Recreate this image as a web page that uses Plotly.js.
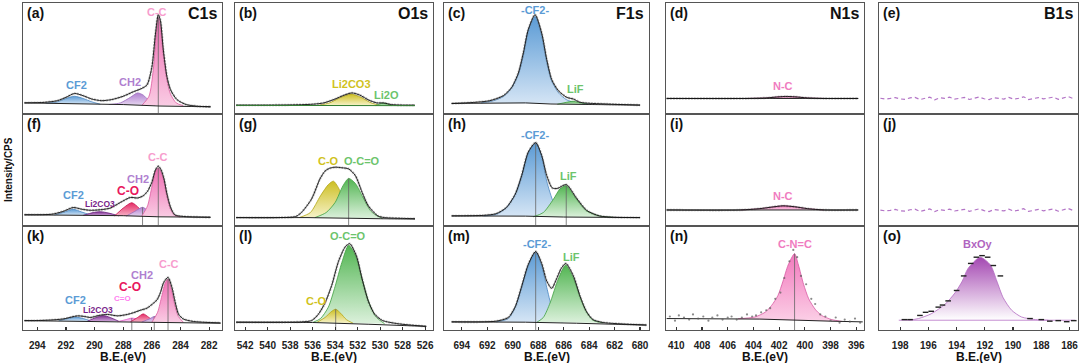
<!DOCTYPE html>
<html><head><meta charset="utf-8">
<script src="https://cdn.plot.ly/plotly-3.0.1.min.js"></script>
<style>html,body{margin:0;padding:0;background:#fff}#chart{width:1080px;height:363px}</style>
</head><body><div id="chart"></div>
<script>
// ---------- column x ranges / ticks ----------
const colRanges = [[295.0, 281.1], [542.9, 525.3], [695.4, 679.3], [410.8, 395.4], [199.5, 185.4]];
const elementNames = ['C1s', 'O1s', 'F1s', 'N1s', 'B1s'];
const panelLetters = ['(a)','(b)','(c)','(d)','(e)','(f)','(g)','(h)','(i)','(j)','(k)','(l)','(m)','(n)','(o)'];

// ---------- (a) C1s ----------
const a_bgX = [294.9, 288.0, 285.5, 281.9];
const a_bgY = [0.10, 0.085, 0.072, 0.065];
const a_envX = [294.9,293.5,292.6,292.0,291.4,290.8,290.2,289.5,288.8,288.0,287.3,286.8,286.35,286.0,285.75,285.55,285.4,285.2,284.95,284.7,284.25,283.6,282.8,281.9];
const a_envY = [0.10,0.105,0.12,0.15,0.185,0.165,0.135,0.12,0.13,0.16,0.20,0.225,0.26,0.42,0.72,0.895,0.84,0.58,0.34,0.22,0.13,0.085,0.07,0.065];
const a_cf2X = [293.4,292.6,292.0,291.4,290.8,290.2,289.6];
const a_cf2Y = [0.097,0.11,0.14,0.16,0.14,0.11,0.088];
const a_ch2X = [289.0,288.2,287.5,287.0,286.6,286.2,285.8];
const a_ch2Y = [0.085,0.10,0.15,0.19,0.17,0.12,0.078];
const a_ccX = [286.7,286.2,285.9,285.7,285.55,285.4,285.2,284.95,284.7,284.3,283.8];
const a_ccY = [0.078,0.16,0.40,0.72,0.87,0.80,0.55,0.31,0.18,0.10,0.075];

// ---------- (f) C1s ----------
const f_bgX = [294.9, 288.0, 285.5, 281.9];
const f_bgY = [0.10, 0.092, 0.082, 0.078];
const f_envX = [294.9,293.0,292.2,291.5,290.9,290.3,289.6,288.9,288.2,287.5,287.0,286.6,286.3,286.0,285.75,285.55,285.35,285.15,284.95,284.7,284.4,283.8,281.9];
const f_envY = [0.10,0.105,0.13,0.165,0.15,0.14,0.145,0.16,0.21,0.255,0.25,0.27,0.31,0.39,0.50,0.535,0.50,0.42,0.29,0.17,0.10,0.085,0.078];
const f_cf2X = [292.8,292.1,291.5,290.9,290.2];
const f_cf2Y = [0.098,0.125,0.15,0.125,0.095];
const f_li2co3X = [290.8,290.1,289.6,289.0,288.3];
const f_li2co3Y = [0.095,0.12,0.128,0.115,0.09];
const f_coX = [288.6,288.0,287.4,286.9,286.4];
const f_coY = [0.09,0.16,0.208,0.16,0.087];
const f_ch2X = [287.8,287.2,286.65,286.2,285.7];
const f_ch2Y = [0.088,0.13,0.167,0.13,0.084];
const f_ccX = [286.7,286.3,286.0,285.75,285.55,285.35,285.15,284.95,284.7,284.4,284.0];
const f_ccY = [0.09,0.18,0.35,0.49,0.52,0.48,0.40,0.27,0.15,0.095,0.08];

// ---------- (k) C1s ----------
const k_bgX = [294.9, 288.0, 285.0, 281.2];
const k_bgY = [0.09, 0.08, 0.072, 0.065];
const k_envX = [294.9,294.3,293.2,292.2,291.6,291.2,290.7,290.3,289.7,289.1,288.4,287.7,287.27,286.8,286.34,285.87,285.64,285.4,285.18,284.87,284.6,284.36,284.13,283.8,283.1,281.2];
const k_envY = [0.09,0.09,0.095,0.106,0.125,0.136,0.13,0.12,0.14,0.15,0.136,0.15,0.167,0.19,0.21,0.26,0.29,0.36,0.455,0.506,0.41,0.26,0.15,0.106,0.082,0.068];
const k_cf2X = [292.5,291.9,291.35,290.8,290.2];
const k_cf2Y = [0.088,0.11,0.125,0.11,0.085];
const k_li2co3X = [290.5,289.9,289.4,288.9,288.3];
const k_li2co3Y = [0.085,0.12,0.14,0.12,0.083];
const k_ceoX = [288.4,287.8,287.4,286.9,286.4];
const k_ceoY = [0.08,0.10,0.115,0.10,0.077];
const k_coX = [287.5,287.0,286.6,286.2,285.8];
const k_coY = [0.078,0.12,0.155,0.12,0.075];
const k_ch2X = [286.7,286.2,285.83,285.3,284.8];
const k_ch2Y = [0.077,0.105,0.13,0.11,0.073];
const k_ccX = [286.0,285.6,285.3,285.05,284.87,284.65,284.4,284.15,283.8];
const k_ccY = [0.075,0.17,0.33,0.46,0.49,0.40,0.24,0.13,0.075];

// ---------- (b) O1s ----------
const b_bgX = [542.8, 526.9];
const b_bgY = [0.078, 0.075];
const b_envX = [542.8,540,538,536,535,534,533.2,532.5,531.8,531,530.3,529.7,529,527.9,526.9];
const b_envY = [0.08,0.08,0.082,0.088,0.10,0.135,0.17,0.19,0.17,0.125,0.10,0.10,0.085,0.08,0.08];
const b_li2co3X = [535.5,534.5,533.5,532.6,531.7,530.8,530.0];
const b_li2co3Y = [0.078,0.10,0.15,0.18,0.15,0.10,0.077];
const b_li2oX = [530.4,529.9,529.5,529.0];
const b_li2oY = [0.076,0.095,0.095,0.076];

// ---------- (g) O1s ----------
const g_bgX = [542.8, 536.5, 530.0, 526.9];
const g_bgY = [0.075, 0.075, 0.065, 0.062];
const g_envX = [542.8,539,537.5,537.0,536.1,535.35,534.9,534.5,534.0,533.4,532.8,532.2,531.6,531.05,530.2,529.6,528,526.9];
const g_envY = [0.075,0.075,0.085,0.12,0.24,0.42,0.49,0.515,0.525,0.52,0.51,0.45,0.30,0.18,0.09,0.075,0.068,0.065];
const g_coX = [537.2,536.2,535.3,534.6,534.15,533.7,533.2,532.6,531.8];
const g_coY = [0.075,0.12,0.27,0.37,0.40,0.34,0.22,0.12,0.072];
const g_occoX = [535.8,534.8,534.0,533.3,532.8,532.2,531.5,530.8,529.8];
const g_occoY = [0.075,0.12,0.21,0.36,0.425,0.38,0.25,0.13,0.066];

// ---------- (l) O1s ----------
const l_bgX = [542.8, 536.0, 531.0, 525.9];
const l_bgY = [0.075, 0.072, 0.055, 0.035];
const l_envX = [542.8,539,537,536.1,535.5,534.9,534.3,533.7,533.1,532.7,532.1,531.6,531.05,530.5,529.8,528.4,525.9];
const l_envY = [0.075,0.075,0.078,0.09,0.15,0.26,0.43,0.66,0.80,0.83,0.71,0.49,0.277,0.154,0.092,0.06,0.035];
const l_coX = [535.6,534.9,534.3,533.95,533.5,533.0,532.4];
const l_coY = [0.075,0.12,0.18,0.20,0.16,0.10,0.065];
const l_occoX = [536.0,535.3,534.6,534.0,533.4,532.8,532.2,531.6,531.0,530.4,529.6];
const l_occoY = [0.072,0.11,0.22,0.42,0.65,0.815,0.72,0.49,0.27,0.13,0.06];

// ---------- (c) F1s ----------
const c_bgX = [694.8, 689.0, 687.0, 680.0];
const c_bgY = [0.095, 0.10, 0.09, 0.08];
const c_envX = [694.8,693.1,691.8,690.74,690.08,689.56,689.17,688.78,688.25,687.73,687.33,686.94,686.42,685.76,685.24,684.7,682.6,680.0];
const c_envY = [0.095,0.104,0.12,0.165,0.24,0.37,0.55,0.76,0.895,0.73,0.49,0.31,0.21,0.15,0.135,0.105,0.09,0.08];
const c_cf2X = [692.5,691.5,690.7,690.1,689.55,689.15,688.8,688.25,687.75,687.35,686.95,686.4,685.8,685.0,684.0];
const c_cf2Y = [0.10,0.12,0.16,0.235,0.36,0.54,0.75,0.88,0.72,0.48,0.30,0.19,0.13,0.10,0.088];
const c_lifX = [686.5,685.8,685.3,684.8,684.0];
const c_lifY = [0.088,0.105,0.115,0.105,0.085];

// ---------- (h) F1s ----------
const h_bgX = [694.8, 689.0, 686.0, 680.0];
const h_bgY = [0.09, 0.088, 0.08, 0.075];
const h_envX = [694.8,692.3,691.3,690.5,689.8,689.3,688.78,688.2,687.73,687.33,686.9,686.5,685.8,685.0,684.2,683.2,682.1,680.0];
const h_envY = [0.09,0.095,0.11,0.165,0.285,0.45,0.66,0.745,0.63,0.45,0.34,0.335,0.37,0.25,0.14,0.09,0.078,0.075];
const h_cf2X = [692.3,691.3,690.5,689.8,689.3,688.78,688.2,687.73,687.33,686.8,686.3,685.76];
const h_cf2Y = [0.09,0.104,0.164,0.284,0.448,0.657,0.74,0.627,0.40,0.21,0.12,0.085];
const h_lifX = [688.4,687.6,686.8,686.3,685.8,685.0,684.2,683.2,682.1];
const h_lifY = [0.082,0.12,0.24,0.33,0.36,0.24,0.134,0.09,0.077];

// ---------- (m) F1s ----------
const m_bgX = [694.8, 689.0, 685.0, 679.5];
const m_bgY = [0.078, 0.075, 0.065, 0.047];
const m_envX = [694.8,692.5,691.3,690.35,689.8,689.3,688.78,688.2,687.73,687.33,686.94,686.6,686.2,685.83,685.24,684.7,684.2,683.7,682.9,679.5];
const m_envY = [0.078,0.078,0.085,0.12,0.225,0.42,0.63,0.755,0.64,0.47,0.40,0.48,0.59,0.64,0.52,0.32,0.175,0.10,0.072,0.048];
const m_cf2X = [691.3,690.35,689.8,689.3,688.78,688.2,687.73,687.33,686.94,686.55,686.1];
const m_cf2Y = [0.078,0.11,0.22,0.41,0.625,0.75,0.62,0.41,0.22,0.11,0.075];
const m_lifX = [688.1,687.6,687.07,686.55,686.1,685.83,685.24,684.7,684.2,683.7,682.9];
const m_lifY = [0.075,0.12,0.26,0.45,0.58,0.625,0.50,0.31,0.17,0.094,0.068];

// ---------- (d) (i) (n) N1s ----------
const d_bgX = [410.75, 395.85];
const d_bgY = [0.14, 0.14];
const d_envX = [410.75,404.5,403,402,401.5,400.8,399.8,398.5,395.85];
const d_envY = [0.14,0.14,0.145,0.155,0.158,0.155,0.145,0.14,0.14];
const d_ncX = [404.5,403,402,401.5,400.8,399.8,398.5];
const d_ncY = [0.14,0.145,0.155,0.158,0.155,0.145,0.14];

const i_bgX = [410.75, 395.85];
const i_bgY = [0.143, 0.143];
const i_envX = [410.75,405,403.5,402.5,401.7,400.8,399.8,398.5,395.85];
const i_envY = [0.143,0.143,0.155,0.17,0.18,0.172,0.155,0.143,0.143];
const i_ncX = [405,403.5,402.5,401.7,400.8,399.8,398.5];
const i_ncY = [0.143,0.155,0.17,0.18,0.172,0.155,0.143];

const n_bgX = [410.75, 403.5, 398.0, 395.5];
const n_bgY = [0.11, 0.105, 0.085, 0.078];
const n_cncX = [405.2,403.9,403.1,402.6,402.1,401.7,401.3,400.8,400.5,400.1,399.7,399.2,398.7,397.9,397.1];
const n_cncY = [0.108,0.125,0.17,0.234,0.33,0.47,0.625,0.734,0.625,0.44,0.30,0.20,0.14,0.10,0.082];
const n_rawX = [410.5,410.1,409.8,409.4,409.0,408.7,408.3,407.9,407.5,407.2,406.8,406.4,406.0,405.7,405.3,404.9,404.5,404.1,403.8,403.4,403.0,402.7,402.3,401.9,401.6,401.2,400.9,400.6,400.3,399.9,399.5,399.2,398.8,398.4,398.0,397.6,397.3,396.9,396.5,396.1,395.7];
const n_rawY = [0.13,0.09,0.14,0.12,0.10,0.15,0.11,0.13,0.09,0.12,0.14,0.10,0.12,0.13,0.10,0.12,0.15,0.13,0.14,0.17,0.19,0.21,0.30,0.36,0.50,0.66,0.77,0.70,0.52,0.44,0.30,0.25,0.15,0.13,0.09,0.12,0.07,0.10,0.08,0.11,0.07];

// ---------- (e) (j) (o) B1s ----------
const e_rawX = [199.4,199.05,198.7,198.35,198.0,197.65,197.3,196.95,196.6,196.25,195.9,195.55,195.2,194.85,194.5,194.15,193.8,193.45,193.1,192.75,192.4,192.05,191.7,191.35,191.0,190.65,190.3,189.95,189.6,189.25,188.9,188.55,188.2,187.85,187.5,187.15,186.8,186.45,186.1,185.75];
const e_rawY = [0.142,0.135,0.140,0.148,0.136,0.132,0.145,0.150,0.130,0.138,0.152,0.128,0.146,0.140,0.151,0.134,0.139,0.149,0.131,0.144,0.153,0.137,0.129,0.147,0.141,0.135,0.150,0.133,0.142,0.155,0.130,0.138,0.148,0.136,0.143,0.152,0.132,0.146,0.157,0.139];
const o_bgX = [198.1, 185.6];
const o_bgY = [0.094, 0.094];
const o_bxoyX = [197.4,196.7,195.8,194.8,194.1,193.6,193.2,192.34,191.6,191.15,190.7,190.1,189.4,188.4,187.5];
const o_bxoyY = [0.094,0.11,0.156,0.25,0.36,0.47,0.59,0.70,0.625,0.47,0.31,0.19,0.125,0.10,0.094];
const o_rawX = [197.7,197.3,196.6,196.2,195.8,195.3,195.0,194.6,194.0,193.5,193.0,192.6,192.2,191.8,191.4,190.9,188.8,188.0,187.4,186.8,186.2,185.7];
const o_rawY = [0.10,0.10,0.14,0.17,0.18,0.22,0.24,0.28,0.38,0.52,0.64,0.70,0.715,0.70,0.62,0.52,0.11,0.10,0.085,0.09,0.08,0.09];

// ---------- styling ----------
const FONT = 'Arial, "Liberation Sans", Helvetica, sans-serif';
const PAL = {  // [fill bottom, fill top, outline, label]
  cf2:  ['#d5e5f5', '#5b9bd5', '#4a86c0', '#5b9bd5'],
  ch2:  ['#e6d6f0', '#b080d0', '#9a6bbd', '#b07fd0'],
  cc:   ['#f9cbe3', '#f06db3', '#dd5aa0', '#f79ccd'],
  co:   ['#f7b3c8', '#e42a64', '#c8104b', '#e8175d'],
  lc:   ['#cfa6d9', '#7e2f91', '#6a1f7d', '#7a1f8a'],
  ceo:  ['#fcd6f4', '#f58ae6', '#e066cc', '#ff80f0'],
  oy:   ['#f6f2c8', '#cdbf22', '#b3a516', '#d0c21c'],
  og:   ['#dcf1dc', '#52b552', '#3f9f3f', '#6cc46c'],
  np:   ['#fbcfe6', '#f279bd', '#d85aa3', '#f07cbf'],
  bp:   ['#ffffff', '#a448b2', '#b36cc2', '#b064c0']
};

const traces = [];
const annotations = [];
function ids(idx){ return idx === 1 ? ['x','y'] : ['x'+idx, 'y'+idx]; }
function comp(idx, xs, ys, p, center){
  const [xa, ya] = ids(idx);
  traces.push({type:'scatter', mode:'lines', x:xs, y:ys, xaxis:xa, yaxis:ya, fill:'toself',
    fillcolor:p[1], fillgradient:{type:'vertical', colorscale:[[0,p[0]],[1,p[1]]]},
    line:{color:p[2], width:0.8, shape:'spline', smoothing:0.7}, hoverinfo:'skip', showlegend:false});
  if (center) {
    let im = 0; ys.forEach((v,i)=>{ if (v > ys[im]) im = i; });
    traces.push({type:'scatter', mode:'lines', x:[xs[im], xs[im]], y:[0, ys[im]], xaxis:xa, yaxis:ya,
      line:{color:'#666', width:0.8}, hoverinfo:'skip', showlegend:false});
  }
}
function env(idx, xs, ys, col){
  const [xa, ya] = ids(idx);
  traces.push({type:'scatter', mode:'lines', x:xs, y:ys, xaxis:xa, yaxis:ya,
    line:{color:'rgba(110,110,110,0.45)', width:2.4, dash:'2px,1px', shape:'spline', smoothing:0.7}, hoverinfo:'skip', showlegend:false});
  traces.push({type:'scatter', mode:'lines', x:xs, y:ys, xaxis:xa, yaxis:ya,
    line:{color:col || '#111', width:0.9, shape:'spline', smoothing:0.7}, hoverinfo:'skip', showlegend:false});
}
function bg(idx, xs, ys, col){
  const [xa, ya] = ids(idx);
  traces.push({type:'scatter', mode:'lines', x:xs, y:ys, xaxis:xa, yaxis:ya,
    line:{color:col || '#222', width:1}, hoverinfo:'skip', showlegend:false});
}
function label(idx, text, x, y, color, size){
  const [xa, ya] = ids(idx);
  annotations.push({xref:xa, yref:ya, x:x, y:y, text:text, showarrow:false,
    font:{family:FONT, size:size || 11, color:color, weight:'bold'}, xanchor:'center', yanchor:'middle'});
}

// (a)
comp(1, a_cf2X, a_cf2Y, PAL.cf2); comp(1, a_ch2X, a_ch2Y, PAL.ch2); comp(1, a_ccX, a_ccY, PAL.cc, true);
bg(1, a_bgX, a_bgY); env(1, a_envX, a_envY);
label(1,'C-C',285.63,0.92,PAL.cc[3]); label(1,'CF2',291.25,0.26,PAL.cf2[3]); label(1,'CH2',287.5,0.29,PAL.ch2[3]);
// (f)
comp(6, f_cf2X, f_cf2Y, PAL.cf2); comp(6, f_li2co3X, f_li2co3Y, PAL.lc); comp(6, f_coX, f_coY, PAL.co);
comp(6, f_ch2X, f_ch2Y, PAL.ch2, true); comp(6, f_ccX, f_ccY, PAL.cc, true);
bg(6, f_bgX, f_bgY); env(6, f_envX, f_envY);
label(6,'C-C',285.54,0.62,PAL.cc[3]); label(6,'CH2',287.0,0.42,PAL.ch2[3]); label(6,'C-O',287.64,0.31,PAL.co[3],12);
label(6,'Li2CO3',289.6,0.194,PAL.lc[3],8.5); label(6,'CF2',291.5,0.277,PAL.cf2[3]);
// (k)
comp(11, k_cf2X, k_cf2Y, PAL.cf2); comp(11, k_li2co3X, k_li2co3Y, PAL.lc); comp(11, k_ceoX, k_ceoY, PAL.ceo, true);
comp(11, k_coX, k_coY, PAL.co); comp(11, k_ch2X, k_ch2Y, PAL.ch2, true); comp(11, k_ccX, k_ccY, PAL.cc, true);
bg(11, k_bgX, k_bgY); env(11, k_envX, k_envY);
label(11,'C-C',284.81,0.63,PAL.cc[3]); label(11,'CH2',286.68,0.53,PAL.ch2[3]); label(11,'C-O',287.5,0.41,PAL.co[3],12);
label(11,'C=O',288.05,0.30,PAL.ceo[3],8); label(11,'Li2CO3',289.75,0.195,PAL.lc[3],8.5); label(11,'CF2',291.34,0.29,PAL.cf2[3]);
// (b)
comp(2, b_li2co3X, b_li2co3Y, PAL.oy); comp(2, b_li2oX, b_li2oY, PAL.og);
env(2, b_envX, b_envY); bg(2, b_bgX, b_bgY, '#2f7d2f');
label(2,'Li2CO3',532.53,0.27,PAL.oy[3]); label(2,'Li2O',529.42,0.173,PAL.og[3]);
// (g)
comp(7, g_coX, g_coY, PAL.oy); comp(7, g_occoX, g_occoY, PAL.og, true);
bg(7, g_bgX, g_bgY); env(7, g_envX, g_envY);
label(7,'C-O',534.6,0.582,PAL.oy[3]); label(7,'O-C=O',531.64,0.582,PAL.og[3]);
// (l)
comp(12, l_occoX, l_occoY, PAL.og); comp(12, l_coX, l_coY, PAL.oy, true);
bg(12, l_bgX, l_bgY); env(12, l_envX, l_envY);
label(12,'O-C=O',532.83,0.906,PAL.og[3]); label(12,'C-O',535.64,0.28,PAL.oy[3]);
// (c)
comp(3, c_cf2X, c_cf2Y, PAL.cf2); comp(3, c_lifX, c_lifY, PAL.og);
bg(3, c_bgX, c_bgY); env(3, c_envX, c_envY);
label(3,'-CF2-',688.25,0.94,PAL.cf2[3]); label(3,'LiF',685.11,0.225,PAL.og[3]);
// (h)
comp(8, h_cf2X, h_cf2Y, PAL.cf2, true); comp(8, h_lifX, h_lifY, PAL.og, true);
bg(8, h_bgX, h_bgY); env(8, h_envX, h_envY);
label(8,'-CF2-',688.25,0.81,PAL.cf2[3]); label(8,'LiF',685.66,0.448,PAL.og[3]);
// (m)
comp(13, m_cf2X, m_cf2Y, PAL.cf2, true); comp(13, m_lifX, m_lifY, PAL.og);
bg(13, m_bgX, m_bgY); env(13, m_envX, m_envY);
label(13,'-CF2-',688.12,0.827,PAL.cf2[3]); label(13,'LiF',685.37,0.70,PAL.og[3]);
// (d)
comp(4, d_ncX, d_ncY, PAL.np); bg(4, d_bgX, d_bgY); env(4, d_envX, d_envY);
label(4,'N-C',401.68,0.25,PAL.np[3]);
// (i)
comp(9, i_ncX, i_ncY, PAL.np); bg(9, i_bgX, i_bgY); env(9, i_envX, i_envY);
label(9,'N-C',401.68,0.27,PAL.np[3]);
// (n)
comp(14, n_cncX, n_cncY, PAL.np, true); bg(14, n_bgX, n_bgY);
traces.push({type:'scatter', mode:'markers', x:n_rawX, y:n_rawY, xaxis:'x14', yaxis:'y14',
  marker:{color:'rgba(90,90,90,0.7)', size:2.2}, hoverinfo:'skip', showlegend:false});
label(14,'C-N=C',400.77,0.83,PAL.np[3]);
// (e) (j)
[5, 10].forEach(idx => {
  const [xa, ya] = ids(idx);
  traces.push({type:'scatter', mode:'lines', x:e_rawX, y:e_rawY, xaxis:xa, yaxis:ya,
    line:{color:'#b374c6', width:1.2, dash:'4px,3px'}, hoverinfo:'skip', showlegend:false});
});
// (o)
comp(15, o_bxoyX, o_bxoyY, PAL.bp); bg(15, o_bgX, o_bgY, '#c58ed2');
traces.push({type:'scatter', mode:'markers', x:o_rawX, y:o_rawY, xaxis:'x15', yaxis:'y15',
  marker:{color:'#222', size:4, symbol:'line-ew', line:{width:1.4, color:'#222'}}, hoverinfo:'skip', showlegend:false});
label(15,'BxOy',192.46,0.83,PAL.bp[3]);

// ---------- layout ----------
const W = 1080, H = 363;
const colPx = [[23,222],[235,433],[444,649],[666,864],[879,1078]];
const rowPx = [[3,114],[114,226],[226,330]];
const layout = {width:W, height:H, margin:{l:0,r:0,t:0,b:0}, showlegend:false,
  paper_bgcolor:'#fff', plot_bgcolor:'rgba(0,0,0,0)', font:{family:FONT}};
for (let r = 0; r < 3; r++) {
  for (let c = 0; c < 5; c++) {
    const idx = r*5 + c + 1;
    const xk = idx === 1 ? 'xaxis' : 'xaxis'+idx;
    const yk = idx === 1 ? 'yaxis' : 'yaxis'+idx;
    const [xa, ya] = ids(idx);
    const bottom = r === 2;
    layout[xk] = {domain:[colPx[c][0]/W, colPx[c][1]/W], anchor:ya, range:colRanges[c],
      showline:true, mirror:true, linecolor:'#555', linewidth:1.3, showgrid:false, zeroline:false,
      showticklabels:bottom, ticks: bottom ? 'inside' : '', ticklen:3, tickwidth:1.2, tickcolor:'#333',
      dtick:2, tick0:0, ticklabelstandoff:6,
      tickfont:{family:FONT, size:10, color:'#222', weight:'bold'}};
    layout[yk] = {domain:[1-rowPx[r][1]/H, 1-rowPx[r][0]/H], anchor:xa, range:[0,1],
      showline:true, mirror:true, linecolor:'#555', linewidth:1.3, showgrid:false, zeroline:false,
      showticklabels:false, ticks:''};
    annotations.push({xref:xa+' domain', yref:ya+' domain', x:0.012, y:1.0, xanchor:'left', yanchor:'top',
      text:panelLetters[idx-1], showarrow:false, font:{family:FONT, size:14, color:'#111', weight:'bold'}});
    if (r === 0) {
      annotations.push({xref:xa+' domain', yref:ya+' domain', x:0.985, y:1.0, xanchor:'right', yanchor:'top',
        text:elementNames[c], showarrow:false, font:{family:FONT, size:16, color:'#111', weight:'bold'}});
    }
    if (bottom) {
      annotations.push({xref:'paper', yref:'paper', x:(colPx[c][0]+colPx[c][1])/2/W, y:1-357/H,
        xanchor:'center', yanchor:'middle', text:'B.E.(eV)', showarrow:false,
        font:{family:FONT, size:12, color:'#111', weight:'bold'}});
    }
  }
}
annotations.push({xref:'paper', yref:'paper', x:8/W, y:1-170/H, xanchor:'center', yanchor:'middle',
  text:'Intensity/CPS', textangle:-90, showarrow:false, font:{family:FONT, size:10, color:'#111', weight:'bold'}});
layout.annotations = annotations;

Plotly.newPlot('chart', traces, layout, {staticPlot:true, displayModeBar:false});
</script></body></html>
